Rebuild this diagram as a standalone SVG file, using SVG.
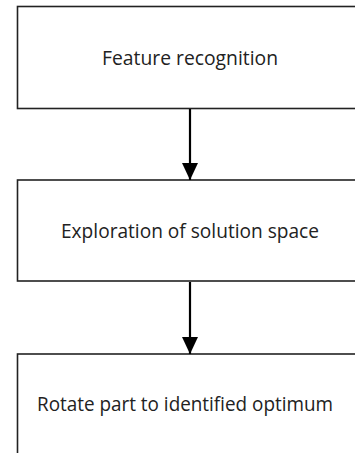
<svg xmlns="http://www.w3.org/2000/svg" width="355" height="453" viewBox="0 0 355 453">
<defs>
<style>
.box{fill:#fff;stroke:#222;stroke-width:1.6}
.lbl{font-family:"Open Sans","Liberation Sans",sans-serif;font-size:20px;fill:#222;text-anchor:middle}
.conn{stroke:#000;stroke-width:2.2;fill:none}
</style>
<marker id="ah" markerWidth="17" markerHeight="16" refX="17" refY="8" orient="auto" markerUnits="userSpaceOnUse" viewBox="0 0 17 16">
<path d="M0,0 L17,8 L0,16 Z" fill="#000"/>
</marker>
</defs>
<rect width="355" height="453" fill="#fff"/>
<g id="node1">
<rect class="box" x="17.5" y="6.5" width="350" height="102"/>
<text class="lbl" x="190" y="65" textLength="176" lengthAdjust="spacingAndGlyphs">Feature recognition</text>
</g>
<g id="node2">
<rect class="box" x="17.5" y="180" width="350" height="101"/>
<text class="lbl" x="190" y="238" textLength="258" lengthAdjust="spacingAndGlyphs">Exploration of solution space</text>
</g>
<g id="node3">
<rect class="box" x="17.5" y="354" width="350" height="120"/>
<text class="lbl" x="185" y="411" textLength="296" lengthAdjust="spacingAndGlyphs">Rotate part to identified optimum</text>
</g>
<g id="connectors">
<path class="conn" d="M190,109 V180" marker-end="url(#ah)"/>
<path class="conn" d="M190,282 V354" marker-end="url(#ah)"/>
</g>
</svg>
